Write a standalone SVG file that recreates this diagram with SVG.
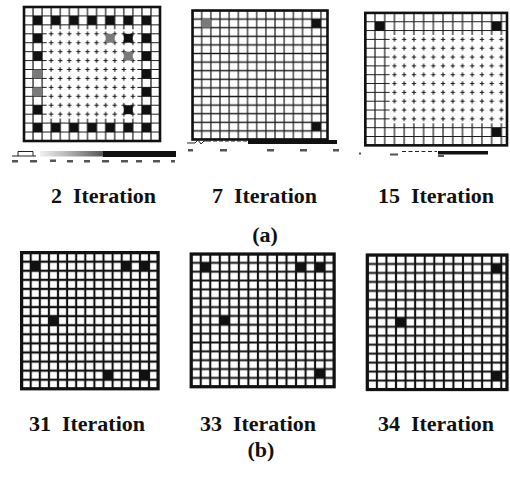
<svg xmlns="http://www.w3.org/2000/svg" width="510" height="479" viewBox="0 0 510 479">
<style>
.tl{fill:none;stroke:#1a1a1a;stroke-width:1.2}
.bl{fill:none;stroke:#111;stroke-width:2.1}
.ft{fill:none;stroke:#111;stroke-width:2.6}
.fb{fill:none;stroke:#111;stroke-width:3.2}
.blk{fill:#111}
.gry{fill:#7a7a7a}
.lbl{font-family:"Liberation Serif","Times New Roman",serif;font-weight:bold;font-size:22px;fill:#111}
.tick{fill:#555}
.cbl{fill:none;stroke:#222;stroke-width:1}
</style>
<defs>
<pattern id="g1s" patternUnits="userSpaceOnUse" x="19.465" y="2.535" width="9.07" height="8.93"><path class="tl" d="M0 4.465H9.07M4.535 0V8.93"/></pattern>
<pattern id="g1c" patternUnits="userSpaceOnUse" x="19.465" y="2.535" width="9.07" height="8.93"><path class="tl" d="M2.3 4.465H6.77M4.535 2.2V6.73"/></pattern>
<pattern id="g2s" patternUnits="userSpaceOnUse" x="187.915" y="6.2" width="9.17" height="8.6"><path class="tl" d="M0 4.3H9.17M4.585 0V8.6"/></pattern>
<pattern id="g3s" patternUnits="userSpaceOnUse" x="360.44" y="8.485" width="9.72" height="8.83"><path class="tl" d="M0 4.415H9.72M4.86 0V8.83"/></pattern>
<pattern id="g3c" patternUnits="userSpaceOnUse" x="360.44" y="8.485" width="9.72" height="8.83"><path class="tl" d="M2.66 4.415H7.06M4.86 2.215V6.615"/></pattern>
<pattern id="g4s" patternUnits="userSpaceOnUse" x="17.05" y="248.06" width="9.1" height="9.08"><path class="bl" d="M0 4.54H9.1M4.55 0V9.08"/></pattern>
<pattern id="g5s" patternUnits="userSpaceOnUse" x="186.435" y="249.575" width="9.53" height="8.85"><path class="bl" d="M0 4.425H9.53M4.765 0V8.85"/></pattern>
<pattern id="g6s" patternUnits="userSpaceOnUse" x="362.515" y="250.515" width="9.57" height="8.97"><path class="bl" d="M0 4.485H9.57M4.785 0V8.97"/></pattern>
<linearGradient id="cbg" x1="0" x2="1" y1="0" y2="0"><stop offset="0" stop-color="#f0f0f0"/><stop offset="0.4" stop-color="#bbb"/><stop offset="1" stop-color="#555"/></linearGradient>
</defs>
<rect width="510" height="479" fill="#fff"/>

<g id="panel-2-iteration">
<rect x="24" y="7" width="136" height="134" fill="url(#g1s)"/>
<rect x="46.675" y="29.325" width="90.7" height="89.3" fill="#fff"/>
<rect x="46.675" y="29.325" width="90.7" height="89.3" fill="url(#g1c)"/>
<g class="blk">
<rect x="33.07" y="15.93" width="9.07" height="8.93"/><rect x="51.21" y="15.93" width="9.07" height="8.93"/><rect x="69.35" y="15.93" width="9.07" height="8.93"/><rect x="87.49" y="15.93" width="9.07" height="8.93"/><rect x="105.63" y="15.93" width="9.07" height="8.93"/><rect x="123.77" y="15.93" width="9.07" height="8.93"/><rect x="141.91" y="15.93" width="9.07" height="8.93"/>
<rect x="33.07" y="123.09" width="9.07" height="8.93"/><rect x="51.21" y="123.09" width="9.07" height="8.93"/><rect x="69.35" y="123.09" width="9.07" height="8.93"/><rect x="87.49" y="123.09" width="9.07" height="8.93"/><rect x="105.63" y="123.09" width="9.07" height="8.93"/><rect x="123.77" y="123.09" width="9.07" height="8.93"/><rect x="141.91" y="123.09" width="9.07" height="8.93"/>
<rect x="33.07" y="33.79" width="9.07" height="8.93"/><rect x="33.07" y="51.65" width="9.07" height="8.93"/><rect x="33.07" y="105.23" width="9.07" height="8.93"/>
<rect x="141.91" y="33.79" width="9.07" height="8.93"/><rect x="141.91" y="51.65" width="9.07" height="8.93"/><rect x="141.91" y="69.51" width="9.07" height="8.93"/><rect x="141.91" y="87.37" width="9.07" height="8.93"/><rect x="141.91" y="105.23" width="9.07" height="8.93"/>
<rect x="123.77" y="33.79" width="9.07" height="8.93"/><rect x="123.77" y="105.23" width="9.07" height="8.93"/>
</g>
<g class="gry">
<rect x="33.07" y="69.51" width="9.07" height="8.93"/><rect x="33.07" y="87.37" width="9.07" height="8.93"/><rect x="105.63" y="33.79" width="9.07" height="8.93"/><rect x="123.77" y="51.65" width="9.07" height="8.93"/>
</g>
<rect class="ft" x="24" y="7" width="136" height="134"/>
<g id="colorbar-1">
<path class="cbl" d="M12 156H36M18 156V151.5H33V156"/>
<rect x="40" y="151" width="63" height="5.5" fill="url(#cbg)"/>
<rect x="103" y="151" width="73" height="6" fill="#111"/>
<g class="tick"><rect x="12" y="160" width="6" height="2.5"/><rect x="30" y="160" width="7" height="2.5"/><rect x="50" y="159.5" width="6" height="2.5"/><rect x="67" y="160" width="6" height="2.5"/><rect x="84" y="160" width="6" height="2.5"/><rect x="102" y="160" width="7" height="2.5"/><rect x="121" y="160" width="7" height="2.5"/><rect x="136" y="160" width="6" height="2.5"/><rect x="153" y="160" width="7" height="2.5"/><rect x="171" y="160" width="4" height="2.5"/></g>
</g>
</g>

<g id="panel-7-iteration">
<rect x="192.5" y="10.5" width="135" height="129" fill="url(#g2s)"/>
<rect class="gry" x="201.67" y="19.1" width="9.17" height="8.6"/>
<rect class="blk" x="311.71" y="19.1" width="9.17" height="8.6"/>
<rect class="blk" x="311.71" y="122.3" width="9.17" height="8.6"/>
<rect class="ft" x="192.5" y="10.5" width="135" height="129"/>
<g id="colorbar-2">
<path class="cbl" d="M187 143H195L198 140L201 144L204 141H207"/>
<path class="cbl" stroke-dasharray="4 2" d="M207 141H248"/>
<rect x="248" y="140" width="89" height="4" fill="#111"/>
<g class="tick"><rect x="188" y="149" width="5" height="2.5"/><rect x="220" y="149" width="7" height="2.5"/><rect x="267" y="149" width="7" height="2.5"/><rect x="300" y="149" width="7" height="2.5"/><rect x="333" y="149" width="6" height="2.5"/></g>
</g>
</g>

<g id="panel-15-iteration">
<rect x="365.3" y="12.9" width="141.7" height="132.45" fill="url(#g3s)"/>
<rect x="389.6" y="34.975" width="117.4" height="88.3" fill="#fff"/>
<rect x="389.6" y="34.975" width="117.4" height="88.3" fill="url(#g3c)"/>
<rect class="blk" x="375.02" y="21.73" width="9.72" height="8.83"/>
<rect class="blk" x="491.66" y="21.73" width="9.72" height="8.83"/>
<rect class="blk" x="491.66" y="127.69" width="9.72" height="8.83"/>
<rect class="ft" x="365.3" y="12.9" width="141.7" height="132.45"/>
<g id="colorbar-3">
<rect class="tick" x="359" y="152.5" width="2" height="2"/>
<rect class="tick" x="390" y="153.5" width="8" height="2"/>
<path class="cbl" stroke-dasharray="4 2.5" d="M402 151.5H437"/>
<rect x="438" y="151" width="50" height="3.5" fill="#111"/>
<rect class="tick" x="438" y="155" width="6" height="2"/>
</g>
</g>

<g id="panel-31-iteration">
<rect x="21.6" y="252.6" width="136.5" height="136.2" fill="url(#g4s)"/>
<g class="blk">
<rect x="30.7" y="261.68" width="9.1" height="9.08"/><rect x="121.7" y="261.68" width="9.1" height="9.08"/><rect x="139.9" y="261.68" width="9.1" height="9.08"/><rect x="48.9" y="316.16" width="9.1" height="9.08"/><rect x="103.5" y="370.64" width="9.1" height="9.08"/><rect x="139.9" y="370.64" width="9.1" height="9.08"/>
</g>
<rect class="fb" x="21.6" y="252.6" width="136.5" height="136.2"/>
</g>

<g id="panel-33-iteration">
<rect x="191.2" y="254" width="142.95" height="132.75" fill="url(#g5s)"/>
<g class="blk">
<rect x="200.73" y="262.85" width="9.53" height="8.85"/><rect x="296.03" y="262.85" width="9.53" height="8.85"/><rect x="315.09" y="262.85" width="9.53" height="8.85"/><rect x="219.79" y="315.95" width="9.53" height="8.85"/><rect x="315.09" y="369.05" width="9.53" height="8.85"/>
</g>
<rect class="fb" x="191.2" y="254" width="142.95" height="132.75"/>
</g>

<g id="panel-34-iteration">
<rect x="367.3" y="255" width="139.7" height="134.55" fill="url(#g6s)"/>
<g class="blk">
<rect x="491.71" y="263.97" width="9.57" height="8.97"/><rect x="396.01" y="317.82" width="9.57" height="8.97"/><rect x="491.71" y="371.61" width="9.57" height="8.97"/>
</g>
<rect class="fb" x="367.3" y="255" width="139.7" height="134.55"/>
</g>

<g id="labels" class="lbl">
<text x="156" y="203" text-anchor="end">2<tspan dx="11">Iteration</tspan></text>
<text x="317" y="203" text-anchor="end">7<tspan dx="11">Iteration</tspan></text>
<text x="494" y="203" text-anchor="end">15<tspan dx="11">Iteration</tspan></text>
<text x="265" y="242" text-anchor="middle">(a)</text>
<text x="145" y="431" text-anchor="end">31<tspan dx="11">Iteration</tspan></text>
<text x="316" y="431" text-anchor="end">33<tspan dx="11">Iteration</tspan></text>
<text x="494" y="431" text-anchor="end">34<tspan dx="11">Iteration</tspan></text>
<text x="261" y="457" text-anchor="middle">(b)</text>
</g>
</svg>
